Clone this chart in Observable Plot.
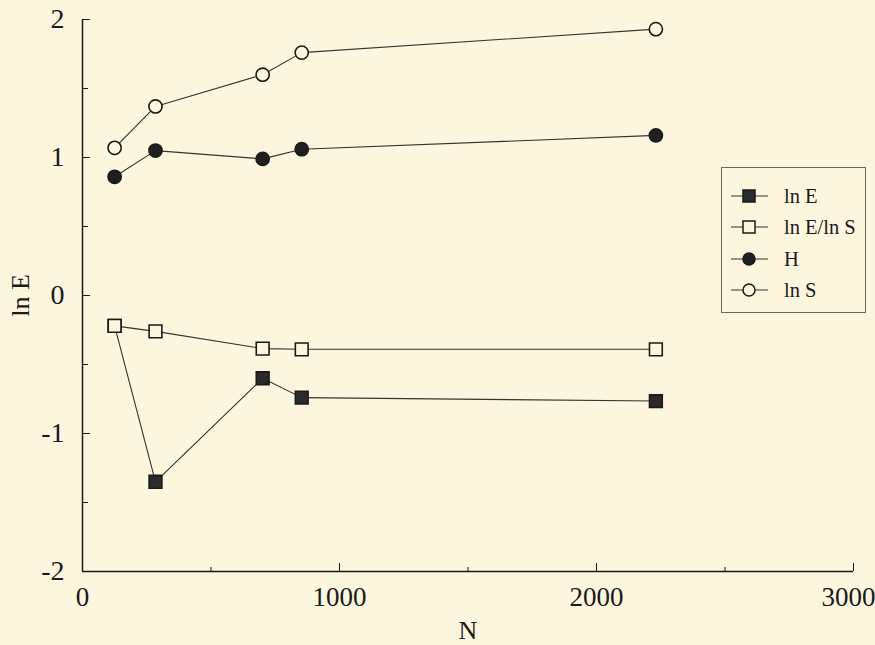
<!DOCTYPE html>
<html>
<head>
<meta charset="utf-8">
<script src="https://cdn.jsdelivr.net/npm/d3@7"></script>
<script src="https://cdn.jsdelivr.net/npm/@observablehq/plot@0.6"></script>
<style>
  html, body { margin: 0; padding: 0; background: #fcf6df; }
  #wrap { position: relative; width: 875px; height: 645px; font-family: "Liberation Serif", serif; color: #1a1a1a; }
  #legend { position: absolute; left: 721px; top: 167px; width: 145px; height: 146px; border: 1px solid #666; box-sizing: border-box; }
  #legend .item { position: absolute; left: 8px; height: 24px; display: flex; align-items: center; }
  #legend .item span { font-size: 20.5px; margin-left: 14px; white-space: nowrap; }
</style>
</head>
<body>
<div id="wrap"><div id="legend"></div></div>
<script>
const N = [125, 284, 701, 853, 2231];
const lnE = [-0.22, -1.35, -0.60, -0.74, -0.765];
const lnEoverlnS = [-0.22, -0.26, -0.385, -0.39, -0.39];
const H = [0.86, 1.05, 0.99, 1.06, 1.16];
const lnS = [1.07, 1.37, 1.60, 1.76, 1.93];
const seriesNames = ["ln E", "ln E/ln S", "H", "ln S"];
const xTicks = [0, 1000, 2000, 3000];
const xMinor = [500, 1500, 2500];
const yTicks = [-2, -1, 0, 1, 2];
const yMinor = [-1.5, -0.5, 0.5, 1.5];

const bg = "#fcf6df";
const ink = "#1a1a1a";
const styles = {
  "ln E":      {symbol: "square", fill: "#2a2a2a", r: 7.2},
  "ln E/ln S": {symbol: "square", fill: bg, r: 7.2},
  "H":         {symbol: "circle", fill: "#1f1f1f", r: 6.6},
  "ln S":      {symbol: "circle", fill: bg, r: 6.6}
};
const seriesValues = [lnE, lnEoverlnS, H, lnS];
const rows = seriesNames.flatMap((s, k) => N.map((n, i) => ({series: s, N: n, v: seriesValues[k][i]})));
const fmt = d => String(d);

const marks = [
  Plot.ruleX([0], {stroke: ink, strokeWidth: 1.5}),
  Plot.ruleY([-2], {stroke: ink, strokeWidth: 1.5}),
  Plot.axisY(yTicks, {tickSize: -8, tickPadding: 26, fontSize: 28, label: null, stroke: ink, fill: ink, tickFormat: fmt}),
  Plot.axisY(yMinor, {tickSize: -6, fill: "none", stroke: ink, label: null}),
  Plot.axisX(xTicks, {tickSize: -8, fill: "none", stroke: ink, label: null}),
  Plot.axisX(xTicks.slice(0, 3), {tickSize: 0, tickPadding: 15, fontSize: 27, label: null, fill: ink, tickFormat: fmt}),
  Plot.axisX(xTicks.slice(3), {tickSize: 0, tickPadding: 15, dx: -5, fontSize: 27, label: null, fill: ink, tickFormat: fmt}),
  Plot.axisX(xMinor, {tickSize: -4, fill: "none", stroke: ink, label: null}),
  Plot.text(["ln E"], {frameAnchor: "left", dx: -62, rotate: -90, textAnchor: "middle", fontSize: 26, fill: ink}),
  Plot.text(["N"], {frameAnchor: "bottom", dy: 59, lineAnchor: "middle", fontSize: 26, fill: ink})
];
seriesNames.forEach(s => {
  const d = rows.filter(r => r.series === s);
  marks.push(Plot.line(d, {x: "N", y: "v", stroke: "#333", strokeWidth: 1.1}));
});
seriesNames.forEach(s => {
  const d = rows.filter(r => r.series === s);
  const st = styles[s];
  marks.push(Plot.dot(d, {x: "N", y: "v", symbol: st.symbol, r: st.r, fill: st.fill, stroke: ink, strokeWidth: 1.6}));
});

const chart = Plot.plot({
  width: 875, height: 645,
  marginLeft: 82, marginRight: 22, marginTop: 19, marginBottom: 74,
  x: {domain: [0, 3000]},
  y: {domain: [-2, 2]},
  style: {background: "transparent", fontFamily: "Liberation Serif, serif", color: ink},
  marks
});
const wrap = document.getElementById("wrap");
wrap.insertBefore(chart, wrap.firstChild);

// legend
const legend = document.getElementById("legend");
const tops = [16, 47, 79, 110];
seriesNames.forEach((s, i) => {
  const st = styles[s];
  const item = document.createElement("div");
  item.className = "item";
  item.style.top = tops[i] + "px";
  const svg = d3.create("svg").attr("width", 40).attr("height", 24);
  svg.append("line").attr("x1", 1).attr("x2", 38).attr("y1", 12).attr("y2", 12).attr("stroke", "#333").attr("stroke-width", 1.1);
  if (st.symbol === "square") {
    svg.append("rect").attr("x", 13).attr("y", 6).attr("width", 12).attr("height", 12).attr("fill", st.fill).attr("stroke", ink).attr("stroke-width", 1.5);
  } else {
    svg.append("circle").attr("cx", 19).attr("cy", 12).attr("r", 6).attr("fill", st.fill).attr("stroke", ink).attr("stroke-width", 1.5);
  }
  item.appendChild(svg.node());
  const t = document.createElement("span");
  t.textContent = s;
  item.appendChild(t);
  legend.appendChild(item);
});
</script>
</body>
</html>
